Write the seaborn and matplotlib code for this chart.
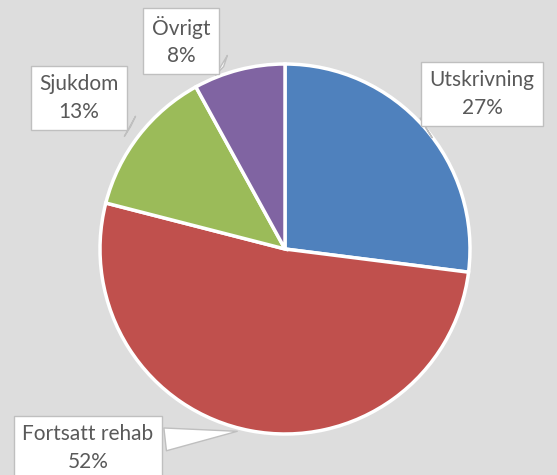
import matplotlib.pyplot as plt
import seaborn as sns

sns.set_theme(style="white")
plt.rcParams['font.family'] = ['Lato', 'DejaVu Sans']

# data
labels = ['Utskrivning', 'Fortsatt rehab', 'Sjukdom', 'Övrigt']
values = [27, 52, 13, 8]
colors = ['#4f81bd', '#c0504d', '#9bbb59', '#8064a2']

# label box centres and callout tips (pixels, y from top)
label_pos = [(482, 94), (88, 448), (79, 98), (181, 41)]
tip_pos = [(426, 128), (240, 431), (133, 128), (226, 68)]

W, H = 557, 475
fig = plt.figure(figsize=(W / 100, H / 100), dpi=100)
fig.patch.set_facecolor('#dddddd')
ax = fig.add_axes([0, 0, 1, 1])
ax.set_facecolor('#dddddd')

ax.pie(values, colors=colors, startangle=90, counterclock=False,
       center=(285, H - 249), radius=185,
       wedgeprops=dict(edgecolor='white', linewidth=2.5))

for lab, v, (tx, ty), (px, py) in zip(labels, values, label_pos, tip_pos):
    ax.annotate(f"{lab}\n{v}%", xy=(px, H - py), xytext=(tx, H - ty),
                ha='center', va='center', fontsize=15, color='#595959',
                linespacing=1.45,
                bbox=dict(boxstyle='square,pad=0.4', fc='white', ec='#bfbfbf', lw=1),
                arrowprops=dict(arrowstyle='wedge,tail_width=1.1,shrink_factor=0.5',
                                fc='white', ec='#bfbfbf', lw=1))

ax.set_xlim(0, W)
ax.set_ylim(0, H)
ax.set_aspect('equal')
ax.axis('off')

fig.savefig('out.png', dpi=100, facecolor=fig.get_facecolor())
